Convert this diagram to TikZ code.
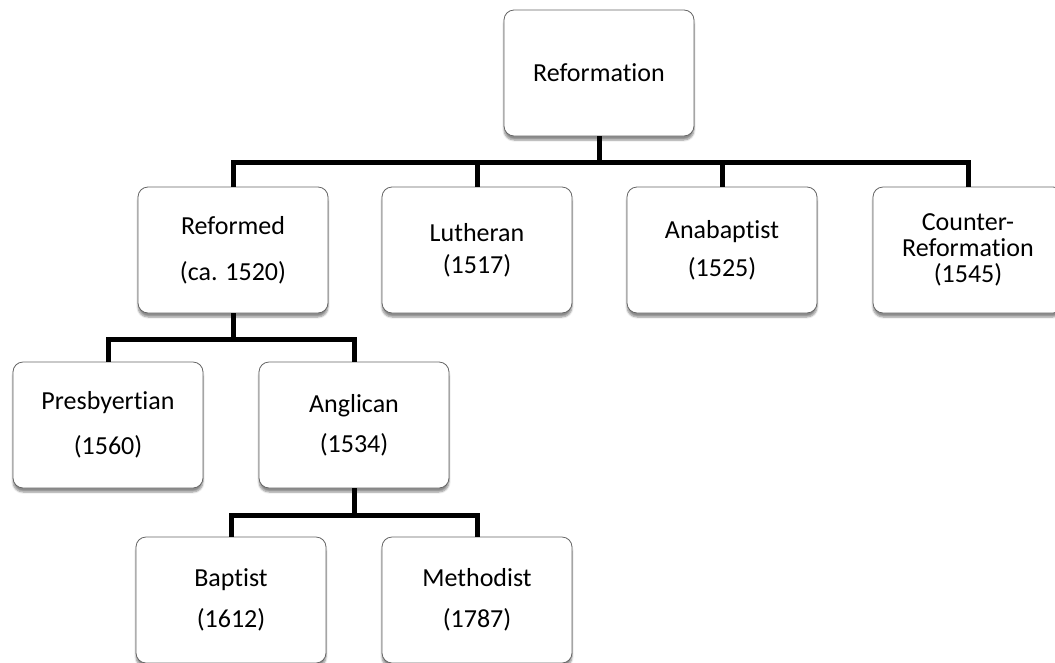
\documentclass[tikz,border=0pt]{standalone}
\usepackage{fontspec}
\setmainfont{Carlito}[Ligatures=NoCommon]
\usetikzlibrary{shadows.blur}
\newcommand{\nolig}{\kern0pt}
\tikzstyle{branch}=[draw=black!60,fill=white,rounded corners=10pt,line width=.8pt,
  minimum width=190pt,minimum height=126pt,align=center,
  font=\fontsize{26}{26}\selectfont,
  blur shadow={shadow xshift=0pt,shadow yshift=-4pt,shadow blur steps=6,shadow opacity=45}]
\tikzstyle{link}=[line width=5pt,black]

\begin{document}
\begin{tikzpicture}[x=1pt,y=-1pt]
\useasboundingbox (0,0) rectangle (1055,662);

%churches
\node[branch] (reformation) at (599,73) {Reformat\nolig ion};
\node[branch] (reformed) at (233,250) {Reformed\\[20pt](ca. 1520)};
\node[branch] (lutheran) at (477,250) {Lutheran\\[6pt](1517)};
\node[branch] (anabaptist) at (722,250) {Anabapt\nolig ist\\[12pt](1525)};
\node[branch] (counter) at (968,250) {Counter-\\Reformat\nolig ion\\(1545)};
\node[branch] (presbyterian) at (108,425) {Presbyert\nolig ian\\[19pt](1560)};
\node[branch] (anglican) at (354,425) {Anglican\\[14pt](1534)};
\node[branch] (baptist) at (231,600) {Bapt\nolig ist\\[15pt](1612)};
\node[branch] (methodist) at (477,600) {Methodist\\[15pt](1787)};

%links
\foreach \child in {reformed,lutheran,anabaptist,counter}
  \draw[link] (reformation.south) -- ++(0,26) -| (\child.north);
\foreach \child in {presbyterian,anglican}
  \draw[link] (reformed.south) -- ++(0,26) -| (\child.north);
\foreach \child in {baptist,methodist}
  \draw[link] (anglican.south) -- ++(0,27) -| (\child.north);

\end{tikzpicture}
\end{document}
